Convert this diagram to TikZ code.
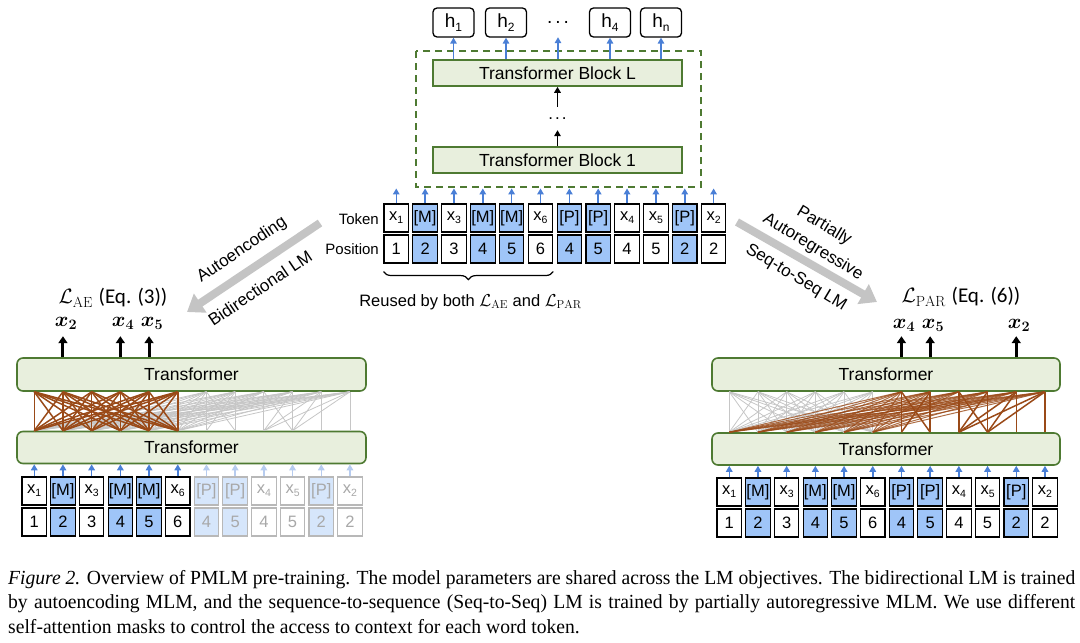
\documentclass[tikz,border=0pt]{standalone}
\usepackage{fontspec}
\usepackage{amsmath,bm}
\setmainfont{Liberation Sans}
\setmathrm{Latin Modern Roman}
\newfontfamily\capfont[FakeStretch=0.98]{Liberation Serif}
\newfontfamily\calib{Carlito}
\usetikzlibrary{arrows.meta,decorations.pathreplacing,calc}
\definecolor{blueF}{HTML}{9FC5F8}
\definecolor{arrowB}{HTML}{4A7FD6}
\definecolor{trF}{HTML}{E8EFDD}
\definecolor{trD}{HTML}{4E7A32}
\definecolor{brn}{HTML}{9A4A18}
\definecolor{bigG}{HTML}{C4C4C4}
\definecolor{fadeD}{HTML}{B8B8B8}
\definecolor{fadeT}{HTML}{A8A8A8}
\definecolor{fadeB}{HTML}{D6E6FB}
\colorlet{fill0}{white}
\colorlet{fill1}{blueF}
\colorlet{ffill0}{white}
\colorlet{ffill1}{fadeB}
\newcommand{\sx}[2]{#1\raisebox{-0.35ex}{\fontsize{10.5}{10.5}\selectfont #2}}
\newcommand{\hx}[2]{#1\raisebox{-0.35ex}{\fontsize{12}{12}\selectfont #2}}
\begin{document}
\begin{tikzpicture}[x=1pt,y=-1pt,
  tok/.style={draw=black,line width=1.1pt,minimum width=24.5pt,minimum height=28pt,inner sep=0pt,font=\fontsize{16.5}{16.5}\selectfont},
  ftok/.style={tok,draw=fadeD,text=fadeT},
  barrow/.style={-{Triangle[length=6pt,width=6.5pt]},line width=1.5pt,draw=arrowB},
  fbarrow/.style={barrow,draw=arrowB!40},
  karrow/.style={-{Triangle[length=6pt,width=6.5pt]},line width=1.5pt,draw=black},
  oarrow/.style={-{Triangle[length=7pt,width=9pt]},line width=3pt,draw=black},
  trbox/.style={draw=trD,fill=trF,line width=1.6pt,rounded corners=6pt,font=\fontsize{17.5}{17.5}\selectfont},
  hbox/.style={draw=black,line width=1.3pt,rounded corners=4pt,minimum width=41pt,minimum height=29pt,inner sep=0pt,font=\fontsize{19}{19}\selectfont},
  bigarrow/.style={-{Triangle[length=16pt,width=22pt]},line width=8pt,draw=bigG},
  lbl/.style={font=\fontsize{17}{17}\selectfont,inner sep=0pt},
  attB/.style={draw=brn,line width=1.5pt},
  attG/.style={draw=gray!45,line width=0.8pt},
]
\useasboundingbox (0,0) rectangle (1080,643);

% ---------- top: shared transformer ----------
\node[hbox] (h1) at (453.5,22.5) {\hx{h}{1}};
\node[hbox] (h2) at (506,22.5) {\hx{h}{2}};
\node[minimum height=29pt,inner sep=0pt,font=\fontsize{19}{19}\selectfont] (hd) at (558,22.5) {.\hspace{3pt}.\hspace{3pt}.};
\node[hbox] (h4) at (610,22.5) {\hx{h}{4}};
\node[hbox] (hn) at (661,22.5) {\hx{h}{n}};
\draw[trD,line width=1.6pt,dash pattern=on 7pt off 5pt] (416,51) rectangle (701,187);
\node[trbox,rounded corners=0pt,minimum width=249pt,minimum height=26pt] (BL) at (557.5,73) {Transformer Block L};
\node[trbox,rounded corners=0pt,minimum width=249pt,minimum height=26pt] (B1) at (557.5,160) {Transformer Block 1};
\node[minimum height=23pt,inner sep=0pt,font=\fontsize{17}{17}\selectfont] (md) at (557.5,118.5) {.\hspace{2pt}.\hspace{2pt}.};
\draw[karrow] (B1.north) -- (md.south);
\draw[karrow] (md.north) -- (BL.south);
\foreach \n in {h1,h2,hd,h4,hn} \draw[barrow] (BL.north -| \n) -- (\n.south);

% ---------- token strips ----------
\foreach \i/\t/\p/\b in {0/{\sx{x}{1}}/1/0,1/{[M]}/2/1,2/{\sx{x}{3}}/3/0,3/{[M]}/4/1,4/{[M]}/5/1,5/{\sx{x}{6}}/6/0,6/{[P]}/4/1,7/{[P]}/5/1,8/{\sx{x}{4}}/4/0,9/{\sx{x}{5}}/5/0,10/{[P]}/2/1,11/{\sx{x}{2}}/2/0}{
  \node[tok,fill=fill\b] (c\i t) at (396.25+28.85*\i,218) {\t};
  \node[tok,fill=fill\b] (c\i p) at (396.25+28.85*\i,249) {\p};
  \draw[barrow] (c\i t.north) -- ++(0,-15);
  \ifnum\i<6
    \node[tok,fill=fill\b] (l\i t) at (34.25+28.7*\i,491) {\t};
    \node[tok,fill=fill\b] (l\i p) at (34.25+28.7*\i,522) {\p};
  \else
    \node[ftok,fill=ffill\b] (l\i t) at (34.25+28.7*\i,491) {\t};
    \node[ftok,fill=ffill\b] (l\i p) at (34.25+28.7*\i,522) {\p};
  \fi
  \node[tok,fill=fill\b] (r\i t) at (729.25+28.7*\i,492) {\t};
  \node[tok,fill=fill\b] (r\i p) at (729.25+28.7*\i,523) {\p};
}
\node[anchor=east,inner sep=0pt,font=\fontsize{15}{15}\selectfont] (tokl) at (379,219) {Token};
\node[anchor=east,inner sep=0pt,font=\fontsize{15}{15}\selectfont] (posl) at (379,249) {Position};
\draw[decorate,decoration={brace,mirror,amplitude=8pt},line width=1.2pt]
  ($(c0p.south west)+(0,8)$) -- ($(c5p.south east)+(0,8)$);
\node[inner sep=0pt,font=\fontsize{16.5}{16.5}\selectfont] (reuse) at (470.5,302) {Reused by both $\mathcal{L}_{\mathrm{AE}}$ and $\mathcal{L}_{\mathrm{PAR}}$};

% ---------- transformers ----------
\node[trbox,minimum width=349pt,minimum height=33pt] (LT) at (191.5,374.5) {Transformer};
\node[trbox,minimum width=349pt,minimum height=32pt] (LB) at (191.5,447.5) {Transformer};
\node[trbox,minimum width=348pt,minimum height=33pt] (RT) at (886,374.5) {Transformer};
\node[trbox,minimum width=348pt,minimum height=32pt] (RB) at (886,449) {Transformer};

\foreach \i in {0,...,11}{
  \ifnum\i<6
    \draw[barrow] (l\i t.north) -- (l\i t |- LB.south);
  \else
    \draw[fbarrow] (l\i t.north) -- (l\i t |- LB.south);
  \fi
  \draw[barrow] (r\i t.north) -- (r\i t |- RB.south);
}

% attention: PAR edges (left, grey)
\foreach \j/\i in {6/6,7/6,6/7,7/7,8/8,9/8,8/9,9/9,8/10,9/10,10/10,8/11,9/11,11/11}{
  \draw[attG] (l\j t |- LB.north) -- (l\i t |- LT.south);
}
\foreach \i in {6,...,11}{\foreach \j in {0,...,5}{
  \draw[attG] (l\j t |- LB.north) -- (l\i t |- LT.south);
}}
% AE edges left (brown)
\foreach \i in {0,...,5}{\foreach \j in {0,...,5}{
  \draw[attB] (l\j t |- LB.north) -- (l\i t |- LT.south);
}}
% AE edges right (grey)
\foreach \i in {0,...,5}{\foreach \j in {0,...,5}{
  \draw[attG] (r\j t |- RB.north) -- (r\i t |- RT.south);
}}
% PAR edges right (brown)
\foreach \i in {6,...,11}{\foreach \j in {0,...,5}{
  \draw[attB,line width=1pt,opacity=0.8] (r\j t |- RB.north) -- (r\i t |- RT.south);
}}
\foreach \j/\i in {6/6,7/6,6/7,7/7,8/8,9/8,8/9,9/9,8/10,9/10,10/10,8/11,9/11,11/11}{
  \draw[attB] (r\j t |- RB.north) -- (r\i t |- RT.south);
}

% ---------- outputs ----------
\node[font=\fontsize{21}{21}\selectfont,inner sep=0pt] (ae) at (113,298) {$\mathcal{L}_{\mathrm{AE}}$ {\calib (Eq. (3))}};
\node[font=\fontsize{21}{21}\selectfont,inner sep=0pt] (par) at (961,297) {$\mathcal{L}_{\mathrm{PAR}}$ {\calib (Eq. (6))}};
\node[font=\fontsize{22}{22}\selectfont,inner sep=0pt] (la) at (66,323) {$\bm{x}_{\bm{2}}$};
\node[font=\fontsize{22}{22}\selectfont,inner sep=0pt] (lb) at (123,323) {$\bm{x}_{\bm{4}}$};
\node[font=\fontsize{22}{22}\selectfont,inner sep=0pt] (lc) at (152,323) {$\bm{x}_{\bm{5}}$};
\node[font=\fontsize{22}{22}\selectfont,inner sep=0pt] (ra) at (904,325) {$\bm{x}_{\bm{4}}$};
\node[font=\fontsize{22}{22}\selectfont,inner sep=0pt] (rb) at (933,325) {$\bm{x}_{\bm{5}}$};
\node[font=\fontsize{22}{22}\selectfont,inner sep=0pt] (rc) at (1019,325) {$\bm{x}_{\bm{2}}$};
\foreach \k/\n in {1/la,3/lb,4/lc}{\draw[oarrow] (l\k t |- LT.north) -- ++(0,-21);}
\foreach \k/\n in {6/ra,7/rb,10/rc}{\draw[oarrow] (r\k t |- RT.north) -- ++(0,-21);}

% ---------- big grey arrows ----------
\draw[bigarrow] (320,223) -- (187,312);
\draw[bigarrow] (737,222) -- (877,302);
\node[lbl,rotate=34] (a1) at (242,250) {Autoencoding};
\node[lbl,rotate=34] (a2) at (260,288) {Bidirectional LM};
\node[lbl,rotate=-31] (b1) at (824,226) {Partially};
\node[lbl,rotate=-31] (b2) at (813,247) {Autoregressive};
\node[lbl,rotate=-31] (b3) at (796,278) {Seq-to-Seq LM};

% ---------- caption ----------
\node[anchor=north west,text width=1067pt,align=justify,inner sep=0pt,font=\capfont\fontsize{20}{24.5}\selectfont] (cap) at (8,570)
{\textit{Figure 2.} Overview of PMLM pre-training. The model parameters are shared across the LM objectives. The bidirectional LM is trained\linebreak
by autoencoding MLM, and the sequence-to-sequence (Seq-to-Seq) LM is trained by partially autoregressive MLM. We use different\linebreak
self-attention masks to control the access to context for each word token.};
\end{tikzpicture}
\end{document}
